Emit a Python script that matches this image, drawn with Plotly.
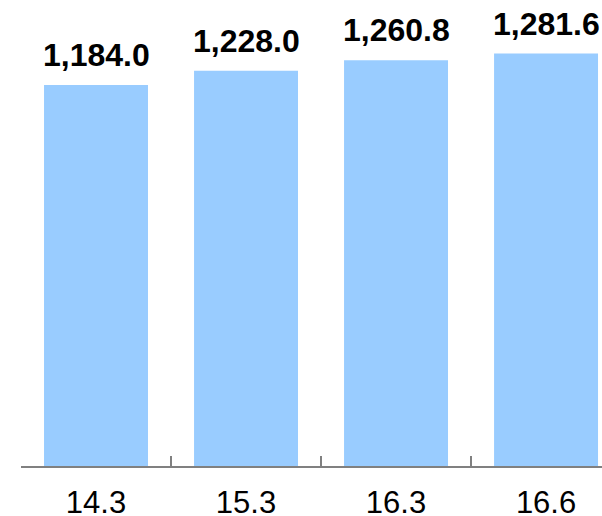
import plotly.graph_objects as go

categories = ["14.3", "15.3", "16.3", "16.6"]
values = [1184.0, 1228.0, 1260.8, 1281.6]
labels = ["1,184.0", "1,228.0", "1,260.8", "1,281.6"]

fig = go.Figure()
fig.add_trace(go.Bar(x=categories, y=values, marker=dict(color="#99CCFF", line=dict(width=0)),
                     width=0.693, hoverinfo="skip"))

for i, (v, t) in enumerate(zip(values, labels)):
    fig.add_annotation(x=i, y=v, xref="x", yref="y", text="<b>%s</b>" % t, showarrow=False,
                       yanchor="bottom", yshift=10,
                       font=dict(family="Liberation Sans, Arial", size=32, color="#000000"))

fig.update_layout(
    width=602, height=516,
    margin=dict(l=21, r=0, t=0, b=50, pad=0),
    paper_bgcolor="white", plot_bgcolor="white",
    showlegend=False,
    xaxis=dict(type="category", range=[-0.5, 3.373], showline=True, linecolor="#808080", linewidth=2,
               ticks="inside", tickson="boundaries", ticklen=10, tickwidth=2, tickcolor="#808080",
               tickfont=dict(family="Liberation Sans, Arial", size=31, color="#000000"),
               showgrid=False, zeroline=False, ticklabelstandoff=8, automargin=False),
    yaxis=dict(range=[0, 1448], showticklabels=False, showline=False, ticks="",
               showgrid=False, zeroline=False, automargin=False),
)

fig.write_html("out.html")
